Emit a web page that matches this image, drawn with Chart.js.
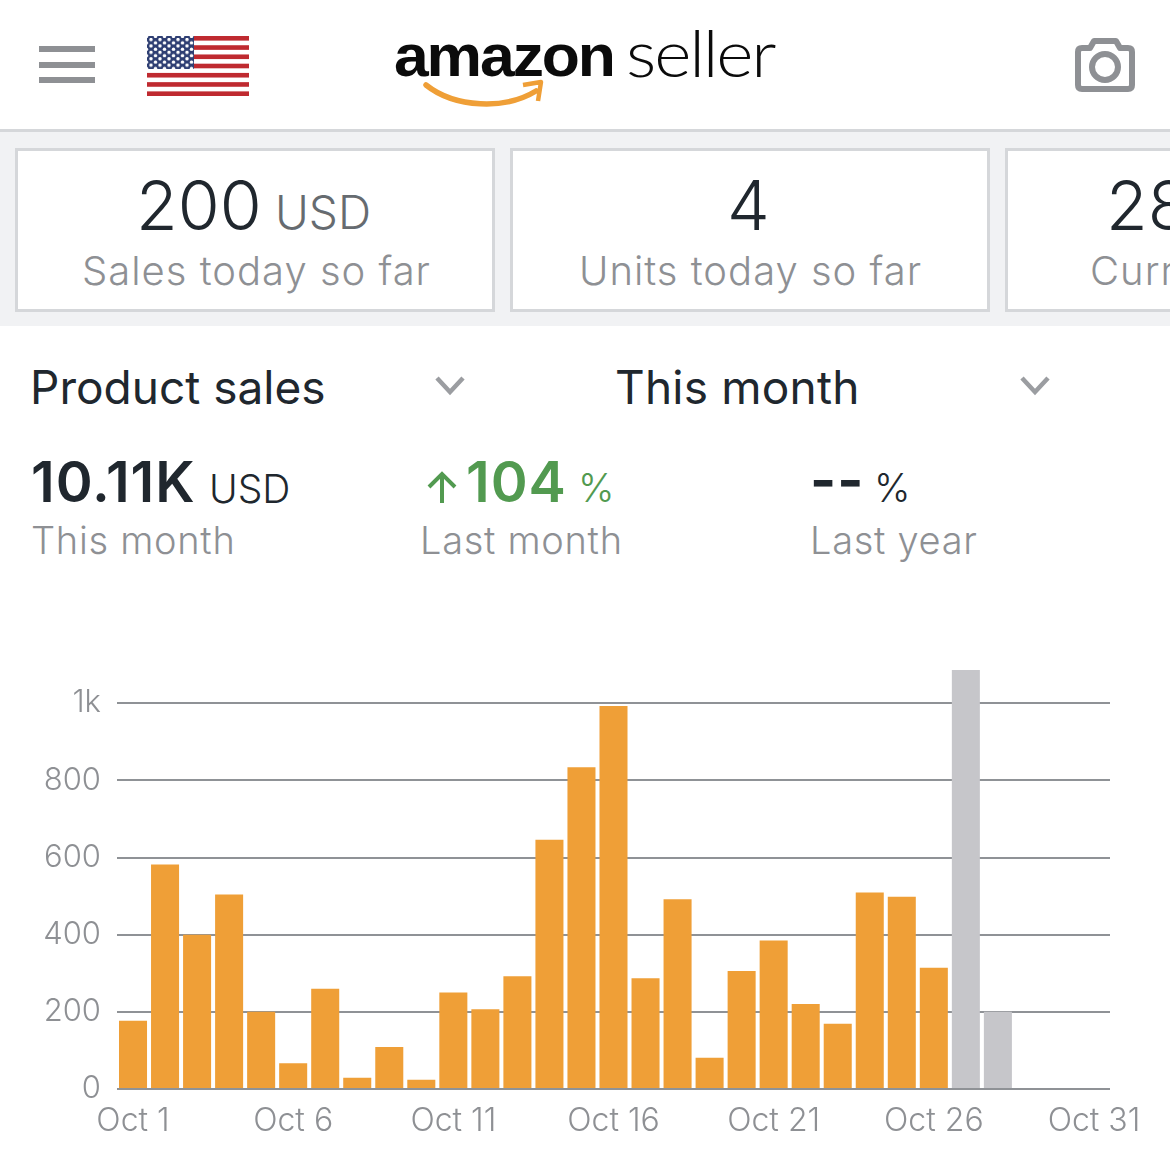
<!DOCTYPE html>
<html>
<head>
<meta charset="utf-8">
<title>Amazon Seller</title>
<script src="https://cdn.jsdelivr.net/npm/chart.js@4"></script>
<style>
  html, body { margin: 0; padding: 0; background: #fff; }
  body { width: 1170px; height: 1167px; position: relative; overflow: hidden; font-family: Inter, Roboto, sans-serif; }
  .abs { position: absolute; white-space: nowrap; line-height: 1; }
  .strip { position: absolute; left: 0; top: 129px; width: 1170px; height: 197px; background: #f1f2f4; border-top: 3px solid #d5d7da; box-sizing: border-box; }
  .card { position: absolute; top: 148px; height: 164px; width: 480px; box-sizing: border-box; background: #fff; border: 3px solid #d5d7da; }
  .big { font-size: 68px; font-weight: 300; color: #20272e; }
  .unit { font-size: 46px; font-weight: 300; color: #666b70; }
  .sub { font-size: 38px; font-weight: 300; color: #8e9094; letter-spacing: 0.7px; }
  .sub-card { font-size: 40px; letter-spacing: 1px; }
  .select { font-size: 46px; font-weight: 400; color: #20272e; }
  .metric { font-size: 56px; font-weight: 600; color: #20272e; letter-spacing: 1px; }
  .green { color: #529a50; }
  #chart { position: absolute; left: 0; top: 630px; }
</style>
</head>
<body>
  <!-- top bar -->
  <svg class="abs" style="left:0;top:0" width="1170" height="129" viewBox="0 0 1170 129">
    <g fill="#8e9094">
      <rect x="39" y="46" width="56" height="6"/>
      <rect x="39" y="62" width="56" height="6"/>
      <rect x="39" y="77" width="56" height="6"/>
    </g>
    <defs>
      <pattern id="stars" x="149" y="38" width="9" height="6.4" patternUnits="userSpaceOnUse">
        <circle cx="2" cy="1.6" r="1.7" fill="#fff"/>
        <circle cx="6.5" cy="4.8" r="1.7" fill="#fff"/>
      </pattern>
    </defs>
    <rect x="147" y="36" width="102" height="60" fill="#fff"/>
    <g id="stripes" fill="#bf2a30"></g>
    <rect x="147" y="36" width="47" height="33" fill="#2f3f73"/>
    <rect x="147" y="36" width="47" height="33" fill="url(#stars)"/>
    <path d="M426 85 C455 108 505 110 536 91" fill="none" stroke="#ef9f37" stroke-width="5.5" stroke-linecap="round"/>
    <path d="M523 85 L541 82 L538 101" fill="none" stroke="#ef9f37" stroke-width="4.5" stroke-linejoin="round"/>
    <g fill="none" stroke="#8e9094" stroke-width="6" stroke-linejoin="round">
      <path d="M1078 52 Q1078 48 1082 48 L1090 48 L1094 41 L1116 41 L1120 48 L1128 48 Q1132 48 1132 52 L1132 85 Q1132 89 1128 89 L1082 89 Q1078 89 1078 85 Z"/>
      <circle cx="1105" cy="67" r="13"/>
    </g>
  </svg>
  <div class="abs" style="left:394px;top:26px;font-family:'Liberation Sans';font-weight:700;font-size:60px;letter-spacing:-2px;color:#0b0b0b;transform:scaleX(1.04);transform-origin:left">amazon</div>
  <div class="abs" style="left:626px;top:19px;font-family:Lato;font-weight:300;font-size:66px;letter-spacing:-2px;color:#0b0b0b;transform:scaleX(1.08);transform-origin:left">seller</div>

  <!-- summary cards -->
  <div class="strip"></div>
  <div class="card" style="left:15px"></div>
  <div class="card" style="left:510px"></div>
  <div class="card" style="left:1005px;width:200px"></div>
  <div class="abs big" style="left:136px;top:171px">200</div>
  <div class="abs unit" style="left:275px;top:189px">USD</div>
  <div class="abs sub sub-card" style="left:82px;top:251px">Sales today so far</div>
  <div class="abs big" style="left:727px;top:171px">4</div>
  <div class="abs sub sub-card" style="left:579px;top:251px">Units today so far</div>
  <div class="abs" style="left:1005px;top:148px;width:165px;height:164px;overflow:hidden">
    <div class="abs big" style="left:101px;top:23px">28</div>
    <div class="abs sub sub-card" style="left:85px;top:103px">Current</div>
  </div>

  <!-- selectors -->
  <div class="abs select" style="left:30px;top:364px">Product sales</div>
  <div class="abs select" style="left:615px;top:364px;letter-spacing:.2px">This month</div>
  <svg class="abs" style="left:0;top:360px" width="1170" height="50" viewBox="0 360 1170 50">
    <g fill="none" stroke="#9b9da1" stroke-width="4.5">
      <path d="M437 378 L450 392 L463 378"/>
      <path d="M1022 378 L1035 392 L1048 378"/>
    </g>
  </svg>

  <!-- period comparison -->
  <div class="abs metric" style="left:31px;top:454px">10.11K</div>
  <div class="abs unit" style="left:209px;top:469px;font-size:39px;color:#20272e">USD</div>
  <div class="abs sub" style="left:31px;top:521px">This month</div>
  <svg class="abs" style="left:425px;top:470px" width="36" height="34" viewBox="0 0 36 34">
    <path d="M17 33 L17 4 M4 17 L17 4 L30 17" fill="none" stroke="#529a50" stroke-width="4"/>
  </svg>
  <div class="abs metric green" style="left:466px;top:454px">104</div>
  <div class="abs unit green" style="left:578px;top:468px;font-size:39px">%</div>
  <div class="abs sub" style="left:420px;top:521px">Last month</div>
  <div class="abs metric" style="left:810px;top:452px;letter-spacing:1px;font-weight:700">--</div>
  <div class="abs unit" style="left:874px;top:468px;font-size:39px;color:#20272e">%</div>
  <div class="abs sub" style="left:810px;top:521px">Last year</div>

  <canvas id="chart" width="1170" height="537"></canvas>

<script>
  const categories = ["Oct 1", "Oct 2", "Oct 3", "Oct 4", "Oct 5", "Oct 6", "Oct 7", "Oct 8", "Oct 9", "Oct 10", "Oct 11",
    "Oct 12", "Oct 13", "Oct 14", "Oct 15", "Oct 16", "Oct 17", "Oct 18", "Oct 19", "Oct 20", "Oct 21",
    "Oct 22", "Oct 23", "Oct 24", "Oct 25", "Oct 26", "Oct 27", "Oct 28", "Oct 29", "Oct 30", "Oct 31"];
  const salesValues = [177, 582, 400, 504, 200, 67, 260, 29, 109, 24, 250, 207, 292, 646, 834, 993, 287, 492, 81, 306, 385,
    220, 169, 509, 498, 314, null, null, null, null, null];
  const pendingValues = [null, null, null, null, null, null, null, null, null, null, null, null, null, null, null, null, null,
    null, null, null, null, null, null, null, null, null, 1086, 200, null, null, null];
  const xTickLabels = ["Oct 1", "Oct 6", "Oct 11", "Oct 16", "Oct 21", "Oct 26", "Oct 31"];
  const yTickLabels = { 0: "0", 200: "200", 400: "400", 600: "600", 800: "800", 1000: "1k" };

  // flag stripes, every other one of the 13
  const stripes = document.getElementById("stripes");
  for (let i = 0; i < 13; i += 2) {
    const r = document.createElementNS("http://www.w3.org/2000/svg", "rect");
    r.setAttribute("x", 147);
    r.setAttribute("y", 36 + (i * 60) / 13);
    r.setAttribute("width", 102);
    r.setAttribute("height", 60 / 13);
    stripes.appendChild(r);
  }

  new Chart(document.getElementById("chart").getContext("2d"), {
    type: "bar",
    data: {
      labels: categories,
      datasets: [
        { label: "Sales", data: salesValues, backgroundColor: "#ef9f37" },
        { label: "Pending", data: pendingValues, backgroundColor: "#c6c6ca" },
      ],
    },
    options: {
      responsive: false,
      animation: false,
      layout: { padding: { top: 13, right: 60, bottom: 0, left: 0 } },
      datasets: { bar: { categoryPercentage: 1, barPercentage: 0.875, grouped: false } },
      plugins: { legend: { display: false }, tooltip: { enabled: false } },
      scales: {
        x: {
          afterFit: (scale) => { scale.height = 78; },
          grid: { display: false },
          border: { display: false },
          ticks: {
            font: { family: "Inter, Roboto, sans-serif", size: 32, weight: "300" },
            color: "#8e9094",
            autoSkip: false,
            maxRotation: 0,
            padding: 5,
            callback(value) {
              const label = this.getLabelForValue(value);
              return xTickLabels.includes(label) ? label : "";
            },
          },
        },
        y: {
          min: 0,
          max: 1100,
          afterFit: (scale) => { scale.width = 117; },
          grid: { color: "#8f9296", lineWidth: 2, drawTicks: false },
          border: { display: false },
          ticks: {
            stepSize: 200,
            includeBounds: false,
            font: { family: "Inter, Roboto, sans-serif", size: 31, weight: "300" },
            color: "#8e9094",
            padding: 16,
            callback: (value) => yTickLabels[value],
          },
        },
      },
    },
  });
</script>
</body>
</html>
